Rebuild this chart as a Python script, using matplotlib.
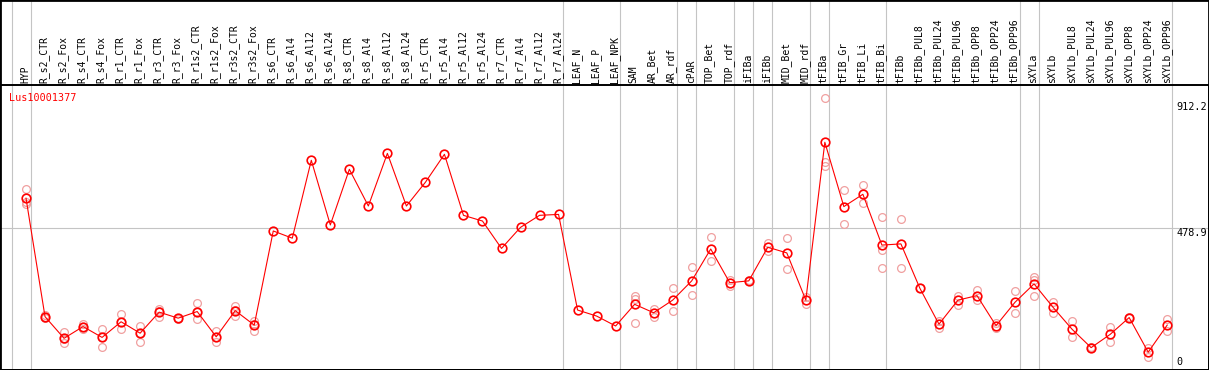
import matplotlib.pyplot as plt
import numpy as np

plt.rcParams['font.family'] = ['DejaVu Sans Mono']

gene = "Lus10001377"

samples = ["HYP",
           "R_s2_CTR", "R_s2_Fox", "R_s4_CTR", "R_s4_Fox", "R_r1_CTR", "R_r1_Fox",
           "R_r3_CTR", "R_r3_Fox", "R_r1s2_CTR", "R_r1s2_Fox", "R_r3s2_CTR", "R_r3s2_Fox",
           "R_s6_CTR", "R_s6_Al4", "R_s6_Al12", "R_s6_Al24",
           "R_s8_CTR", "R_s8_Al4", "R_s8_Al12", "R_s8_Al24",
           "R_r5_CTR", "R_r5_Al4", "R_r5_Al12", "R_r5_Al24",
           "R_r7_CTR", "R_r7_Al4", "R_r7_Al12", "R_r7_Al24",
           "LEAF_N", "LEAF_P", "LEAF_NPK", "SAM", "AR_Bet", "AR_rdf", "cPAR",
           "TOP_Bet", "TOP_rdf", "iFIBa", "iFIBb", "MID_Bet", "MID_rdf", "tFIBa",
           "tFIB_Gr", "tFIB_Li", "tFIB_Bi", "tFIBb",
           "tFIBb_PUL8", "tFIBb_PUL24", "tFIBb_PUL96", "tFIBb_OPP8", "tFIBb_OPP24", "tFIBb_OPP96",
           "sXYLa", "sXYLb",
           "sXYLb_PUL8", "sXYLb_PUL24", "sXYLb_PUL96", "sXYLb_OPP8", "sXYLb_OPP24", "sXYLb_OPP96"]

# mean expression per sample (red line)
means = [579,
         185, 113, 152, 116, 168, 130, 200, 180, 202, 118, 205, 157,
         470, 446, 705, 490, 675, 553, 728, 553, 632, 725, 522, 503,
         412, 482, 522, 525,
         207, 187, 154, 226, 198, 240, 304, 410, 298, 304, 416, 397, 240,
         765, 551, 592, 423, 427,
         279, 160, 240, 255, 155, 233,
         294, 216, 143, 82, 126, 182, 67, 157]

# individual replicates (pale circles)
reps = [[609, 566, 558],
        [191, 180, 185], [133, 96, 112], [161, 143, 152], [143, 85, 118],
        [193, 144, 168], [155, 102, 132], [211, 185, 203], [182, 178],
        [230, 177, 200], [137, 102, 116], [222, 187, 206], [172, 138, 160],
        [], [], [], [], [], [], [], [], [], [], [], [], [], [], [], [],
        [], [], [],
        [254, 244, 163], [210, 185], [279, 204], [349, 256], [449, 369],
        [307, 288], [302, 306], [431, 404], [446, 343], [251, 226],
        [912.2, 700, 686], [606, 492], [623, 562], [515, 407, 347], [510, 346],
        [279], [172, 148], [254, 225], [274, 240], [163, 146], [271, 196],
        [318, 307, 254], [235, 196], [171, 116], [85, 80], [150, 102],
        [185, 180], [80, 52], [177, 137]]

# last sample index of each group (vertical separators)
group_ends = [-1, 0, 28, 31, 34, 35, 37, 38, 39, 41, 42, 45, 52, 53, 60]

y_top_label = 912.2
y_mid_label = 478.9

fig = plt.figure(figsize=(12.09, 3.70), dpi=100)
ax = fig.add_axes([0, 0, 1, 285 / 370])

x = np.arange(len(samples))
ax.set_xlim(-26 / 19.02, (1209 - 26) / 19.02)
ax.set_ylim(7.6, 955.4)

grid_col = '#c4c4c4'
for g in group_ends:
    ax.axvline(g + 0.24, ymin=-0.01, ymax=1.31, color=grid_col, lw=0.8,
               clip_on=False, zorder=0)
ax.axhline(y_mid_label, color=grid_col, lw=0.8, zorder=0)

rx = [i for i, r in enumerate(reps) for _ in r]
ry = [v for r in reps for v in r]
ax.plot(rx, ry, 'o', ms=5.6, mfc='none', mec='#f0a0a0', mew=0.9, zorder=2)
ax.plot(x, means, '-', color='red', lw=0.8, zorder=3)
ax.plot(x, means, 'o', ms=6.2, mfc='none', mec='red', mew=1.2, zorder=4)

for i, s in enumerate(samples):
    ax.annotate(s, (i - 0.05, 1), xycoords=('data', 'axes fraction'),
                xytext=(0, 2), textcoords='offset pixels', rotation=90,
                ha='center', va='bottom', fontsize=7, annotation_clip=False)

ax.text(0.0075, 0.955, gene, transform=ax.transAxes, color='red',
        fontsize=7.3, ha='left', va='center')

ax.annotate(f"{y_top_label}", (0.973, y_top_label),
            xycoords=('axes fraction', 'data'), xytext=(0, -4),
            textcoords='offset pixels', ha='left', va='top', fontsize=7.3)
ax.annotate(f"{y_mid_label}", (0.973, y_mid_label),
            xycoords=('axes fraction', 'data'), xytext=(0, 0),
            textcoords='offset pixels', ha='left', va='top', fontsize=7.3)
ax.text(0.973, 0.012, "0", transform=ax.transAxes, ha='left', va='bottom',
        fontsize=7.3)

ax.set_xticks([])
ax.set_yticks([])
for sp in ax.spines.values():
    sp.set_linewidth(1.4)
    sp.set_color('black')

fig.add_artist(plt.Rectangle((0, 0), 1, 1, transform=fig.transFigure,
                             fill=False, ec='black', lw=2))

fig.savefig('out.png', dpi=100)
